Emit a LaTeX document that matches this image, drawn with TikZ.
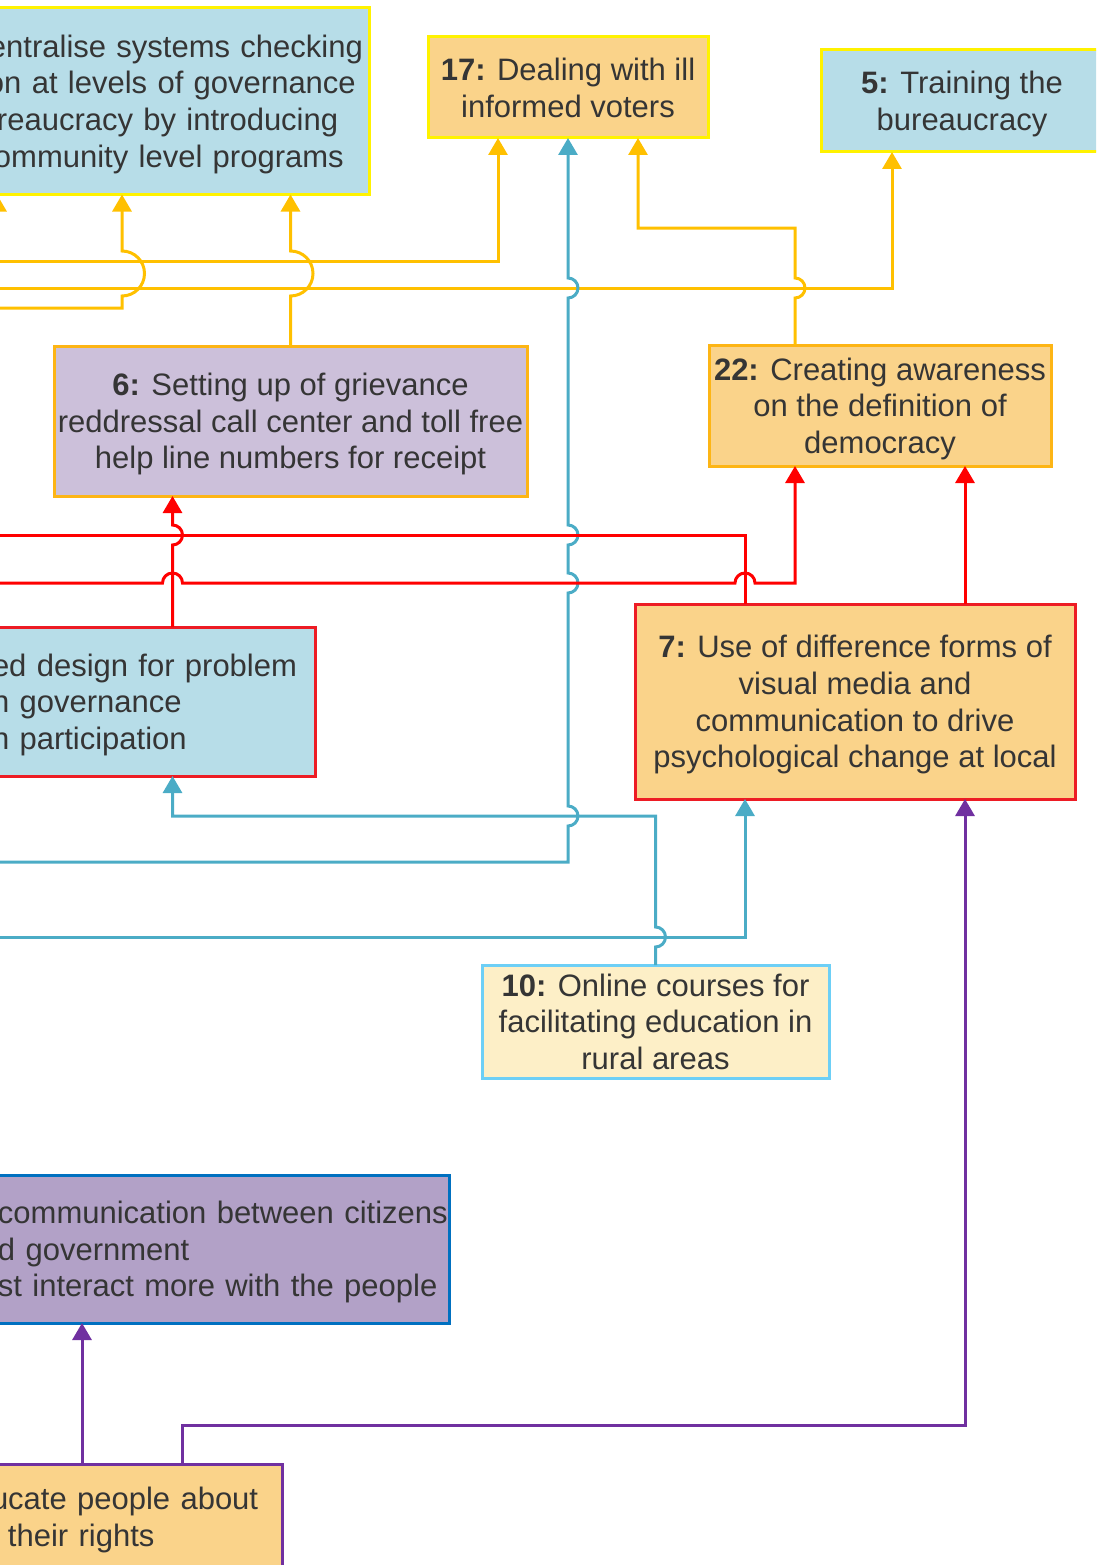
\documentclass[tikz,border=0pt]{standalone}
\usepackage{fontspec}
\setmainfont{Liberation Sans}
\usetikzlibrary{arrows.meta}

\definecolor{txt}{HTML}{353535}
\definecolor{fblue}{HTML}{B7DDE8}
\definecolor{forange}{HTML}{FAD38A}
\definecolor{flilac}{HTML}{CCC0DA}
\definecolor{fpurple}{HTML}{B2A1C7}
\definecolor{fcream}{HTML}{FDEFC7}
\definecolor{byellow}{HTML}{FFF200}
\definecolor{bgold}{HTML}{FDB515}
\definecolor{bred}{HTML}{ED1C24}
\definecolor{bsky}{HTML}{6DCFF6}
\definecolor{bnavy}{HTML}{0070C0}
\definecolor{cgold}{HTML}{FFC000}
\definecolor{cblue}{HTML}{4BACC6}
\definecolor{cred}{HTML}{FF0000}
\definecolor{cpurple}{HTML}{7030A0}

\begin{document}
\begin{tikzpicture}[x=1pt, y=-1pt, >={Triangle[length=17pt,width=19pt]},
   box/.style={draw, line width=3pt, outer sep=0pt, inner ysep=0pt, inner xsep=2pt, text depth=0pt,
     align=center, text=txt, font=\fontsize{31}{36.7}\selectfont},
   cut/.style={box, anchor=north east, align=left},
   link/.style={line width=3pt, ->}]
\useasboundingbox (0,0) rectangle (1096,1565);
\clip (0,0) rectangle (1096,1565);

% boxes
\node[cut, fill=fblue, draw=byellow, text width=379pt, inner xsep=1pt, text depth=110.1pt, minimum height=187pt] (dec) at (369,7.5)
  {entralise systems checking\\\hspace*{-2pt}on at levels of governance\\\hspace*{8pt}reaucracy by introducing\\\hspace*{5pt}ommunity level programs};
\node[box, fill=forange, draw=byellow, minimum width=280pt, minimum height=101pt] (voters) at (568,87.5)
  {\textbf{17:} Dealing with ill\\informed voters};
\node[box, fill=fblue, draw=byellow, minimum width=282pt, minimum height=102pt] (train) at (962,101)
  {\textbf{5:} Training the\\bureaucracy};
\node[box, fill=forange, draw=bgold, minimum width=342pt, minimum height=121pt] (aware) at (880,405.5)
  {\textbf{22:} Creating awareness\\on the definition of\\democracy};
\node[box, fill=flilac, draw=bgold, minimum width=473pt, minimum height=150pt] (grievance) at (290.5,421)
  {\textbf{6:} Setting up of grievance\\reddressal call center and toll free\\help line numbers for receipt};
\node[cut, fill=fblue, draw=bred, text width=320pt, inner xsep=3pt, text depth=73.4pt, minimum height=149pt] (design) at (315,627)
  {ed design for problem\\n governance\\n participation};
\node[box, fill=forange, draw=bred, minimum width=440pt, minimum height=195pt] (media) at (855,701.5)
  {\textbf{7:} Use of difference forms of\\visual media and\\communication to drive\\psychological change at local};
\node[box, fill=fcream, draw=bsky, minimum width=347pt, minimum height=113pt] (online) at (655.5,1021.5)
  {\textbf{10:} Online courses for\\facilitating education in\\rural areas};
\node[cut, fill=fpurple, draw=bnavy, text width=451pt, inner xsep=0pt, text depth=73.4pt, minimum height=148pt] (talk) at (449,1175)
  {communication between citizens\\d government\\st interact more with the people};
\node[cut, fill=forange, draw=cpurple, text width=288pt, inner xsep=3pt, text depth=36.7pt, minimum height=105pt] (rights) at (282,1464)
  {ucate people about\\\hspace*{17pt}their rights};

% ends outside the frame
\coordinate (inA) at (-40,261);
\coordinate (inB) at (-40,288);
\coordinate (inC) at (-40,308);
\coordinate (inD) at (-3,330);
\coordinate (inE) at (-40,862);
\coordinate (inF) at (-40,937);
\coordinate (inG) at (-40,583);
\coordinate (outA) at (-40,535);

% gold links
\draw[link, cgold] (inA) -| ([xshift=-70pt]voters.south);
\draw[link, cgold] (inB) -| ([xshift=-70pt]train.south);
\draw[link, cgold] (grievance.north) -- (290.5,296) arc[start angle=-90, end angle=90, radius=22.5pt]
  -- (grievance.north |- dec.south);
\draw[link, cgold] (inC) -- (122,308) -- (122,296) arc[start angle=-90, end angle=90, radius=22.5pt]
  -- ([xshift=-247pt]dec.south east);
\draw[link, cgold] (inD) -- ([xshift=-372pt]dec.south east);
\draw[link, cgold] ([xshift=-85pt]aware.north) -- (795,298) arc[start angle=-90, end angle=90, radius=10pt]
  -- (795,228) -| ([xshift=70pt]voters.south);

% blue links
\draw[link, cblue] (inE) -- (568,862) -- (568,826) arc[start angle=-90, end angle=90, radius=10pt]
  -- (568,593) arc[start angle=-90, end angle=90, radius=10pt]
  -- (568,545) arc[start angle=-90, end angle=90, radius=10pt]
  -- (568,298) arc[start angle=-90, end angle=90, radius=10pt] -- (voters.south);
\draw[link, cblue] (online.north) -- (655.5,947) arc[start angle=-90, end angle=90, radius=10pt]
  -- (655.5,816) -| ([xshift=-142.5pt]design.south east);
\draw[link, cblue] (inF) -| ([xshift=-110pt]media.south);

% red links
\draw[link, cred] ([xshift=-142.5pt]design.north east) -- (172.5,545) arc[start angle=-90, end angle=90, radius=10pt]
  -- ([xshift=-118pt]grievance.south);
\draw[link, cred] ([xshift=-110pt]media.north) |- (outA);
\draw[link, cred] (inG) -- (162.5,583) arc[start angle=180, end angle=0, radius=10pt]
  -- (735,583) arc[start angle=180, end angle=0, radius=10pt] -| ([xshift=-85pt]aware.south);
\draw[link, cred] ([xshift=110pt]media.north) -- ([xshift=85pt]aware.south);

% purple links
\draw[link, cpurple] ([xshift=-200pt]rights.north east) -- ([xshift=-367pt]talk.south east);
\draw[link, cpurple] ([xshift=-100pt]rights.north east) -- (182,1425) -| ([xshift=110pt]media.south);
\end{tikzpicture}
\end{document}
